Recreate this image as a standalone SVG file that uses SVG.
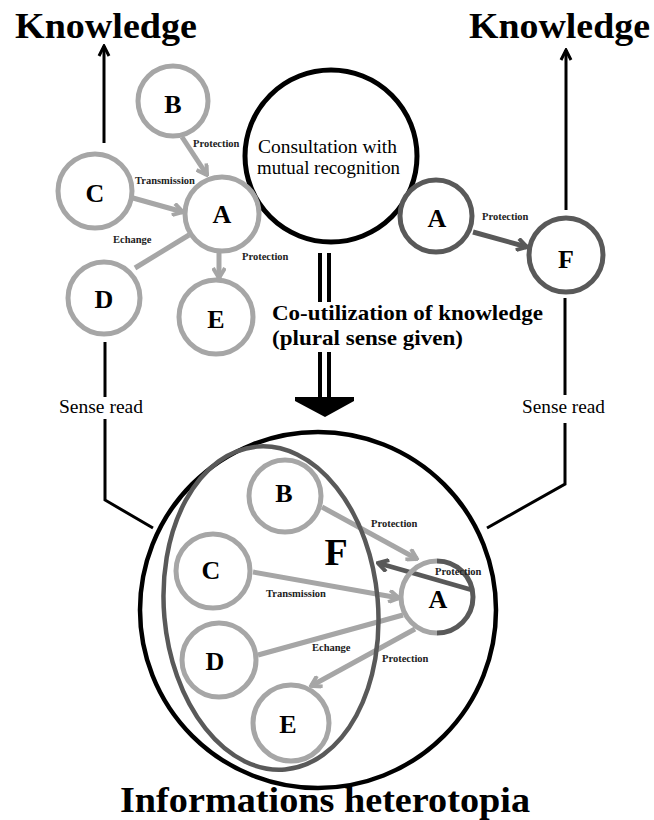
<svg xmlns="http://www.w3.org/2000/svg" width="654" height="820" viewBox="0 0 654 820">
<style>
.lt{fill:#fff;stroke:#a6a6a6;stroke-width:5}
.dk{fill:#fff;stroke:#595959;stroke-width:5}
.ltl{fill:none;stroke:#a6a6a6;stroke-width:5}
.dkl{fill:none;stroke:#595959;stroke-width:4.5}
.bk{fill:none;stroke:#000;stroke-width:3}
text{font-family:'Liberation Serif','DejaVu Serif',serif}
.node{font-weight:bold;font-size:26px;text-anchor:middle;fill:#000}
.lab{font-weight:bold;font-size:10.5px;fill:#222}
.big{font-weight:bold;fill:#000}
.reg{fill:#000}
</style>
<defs>
<marker id="mlt" viewBox="0 0 14 14" refX="12" refY="7" markerWidth="14" markerHeight="14" markerUnits="userSpaceOnUse" orient="auto"><path d="M2,1 L12,7 L2,13" fill="none" stroke="#a6a6a6" stroke-width="4"/></marker>
<marker id="mdk" viewBox="0 0 14 14" refX="12" refY="7" markerWidth="14" markerHeight="14" markerUnits="userSpaceOnUse" orient="auto"><path d="M2,1 L12,7 L2,13" fill="none" stroke="#595959" stroke-width="4"/></marker>
<marker id="mbk" viewBox="0 0 14 14" refX="12" refY="7" markerWidth="14" markerHeight="14" markerUnits="userSpaceOnUse" orient="auto"><path d="M2,2 L12,7 L2,12" fill="none" stroke="#000" stroke-width="3"/></marker>
</defs>
<rect width="654" height="820" fill="#fff"/>

<g id="connectors">
  <line class="bk" x1="104" y1="143" x2="104" y2="46" marker-end="url(#mbk)"/>
  <line class="bk" x1="566" y1="210" x2="566" y2="50" marker-end="url(#mbk)"/>
  <line class="bk" x1="105" y1="342" x2="105" y2="397"/>
  <polyline class="bk" points="105,419 105,500 153,528"/>
  <line class="bk" x1="565" y1="298" x2="565" y2="395"/>
  <polyline class="bk" points="565,423 565,484 487,528"/>
  <line x1="320" y1="253" x2="320" y2="302" stroke="#000" stroke-width="4"/>
  <line x1="329" y1="253" x2="329" y2="302" stroke="#000" stroke-width="4"/>
  <line x1="320" y1="352" x2="320" y2="399" stroke="#000" stroke-width="4"/>
  <line x1="329" y1="352" x2="329" y2="399" stroke="#000" stroke-width="4"/>
  <polygon points="295,397 354,397 354,401 325,417 295,401" fill="#000"/>
  <line class="ltl" x1="182" y1="137" x2="207" y2="175" marker-end="url(#mlt)"/>
  <line class="ltl" x1="133" y1="198" x2="183" y2="212" marker-end="url(#mlt)"/>
  <line class="ltl" x1="135" y1="268" x2="189" y2="235"/>
  <line class="ltl" x1="219" y1="252" x2="219" y2="278" marker-end="url(#mlt)"/>
  <line x1="473" y1="232" x2="527" y2="247" stroke="#595959" stroke-width="5" marker-end="url(#mdk)"/>
  <line class="ltl" x1="322" y1="507" x2="417" y2="559" marker-end="url(#mlt)"/>
  <line class="ltl" x1="253" y1="572" x2="399" y2="598" marker-end="url(#mlt)"/>
  <line class="ltl" x1="258" y1="655" x2="403" y2="615"/>
  <line class="ltl" x1="415" y1="629" x2="311" y2="686" marker-end="url(#mlt)"/>
  <line class="dkl" x1="472" y1="590" x2="378" y2="563" marker-end="url(#mdk)"/>
</g>

<g id="consultation">
  <circle cx="331" cy="156" r="86" fill="none" stroke="#000" stroke-width="5"/>
  <text class="reg" font-size="19" x="258" y="153" textLength="139" lengthAdjust="spacingAndGlyphs">Consultation with</text>
  <text class="reg" font-size="19" x="257" y="174" textLength="143" lengthAdjust="spacingAndGlyphs">mutual recognition</text>
</g>

<g id="tl-B"><circle class="lt" cx="173" cy="101" r="35"/><text class="node" x="173" y="113">B</text></g>
<g id="tl-C"><circle class="lt" cx="95" cy="191" r="37"/><text class="node" x="95" y="202">C</text></g>
<g id="tl-A"><circle class="lt" cx="222" cy="214" r="37"/><text class="node" x="222" y="223">A</text></g>
<g id="tl-D"><circle class="lt" cx="104" cy="298" r="36"/><text class="node" x="104" y="308">D</text></g>
<g id="tl-E"><circle class="lt" cx="216" cy="317" r="37"/><text class="node" x="216" y="328">E</text></g>

<g id="tr-A"><circle class="dk" cx="436" cy="216" r="36"/><text class="node" x="437" y="227">A</text></g>
<g id="tr-F"><circle class="dk" cx="566" cy="255" r="37"/><text class="node" font-size="36" x="566" y="268">F</text></g>

<g id="heterotopia">
  <circle cx="318" cy="610" r="178" fill="none" stroke="#000" stroke-width="4.5"/>
</g>
<g id="F-ellipse">
  <ellipse cx="271" cy="608" rx="107" ry="162" transform="rotate(-5 271 608)" fill="none" stroke="#595959" stroke-width="4.5"/>
  <text class="big" font-size="38" x="336" y="565" text-anchor="middle">F</text>
</g>
<g id="b-B"><circle class="ltl" cx="285" cy="496" r="36"/><text class="node" x="284" y="502">B</text></g>
<g id="b-C"><circle class="ltl" cx="213" cy="571" r="37"/><text class="node" x="211" y="579">C</text></g>
<g id="b-D"><circle class="ltl" cx="219" cy="660" r="37"/><text class="node" x="215" y="670">D</text></g>
<g id="b-E"><circle class="ltl" cx="291" cy="723" r="38"/><text class="node" x="288" y="733">E</text></g>
<g id="b-A">
  <path d="M437,633 A36,36 0 0 1 437,561" fill="none" stroke="#a6a6a6" stroke-width="5"/>
  <path d="M437,561 A36,36 0 0 1 437,633" fill="none" stroke="#595959" stroke-width="5"/>
  <text class="node" x="438" y="608">A</text>
</g>

<g id="labels">
  <text class="big" font-size="36" x="15" y="38" textLength="182" lengthAdjust="spacingAndGlyphs">Knowledge</text>
  <text class="big" font-size="36" x="469" y="38" textLength="181" lengthAdjust="spacingAndGlyphs">Knowledge</text>
  <text class="reg" font-size="19" x="59" y="413" textLength="84" lengthAdjust="spacingAndGlyphs">Sense read</text>
  <text class="reg" font-size="19" x="522" y="413" textLength="83" lengthAdjust="spacingAndGlyphs">Sense read</text>
  <text class="big" font-size="22" x="272" y="320" textLength="271" lengthAdjust="spacingAndGlyphs">Co-utilization of knowledge</text>
  <text class="big" font-size="22" x="272" y="345" textLength="191" lengthAdjust="spacingAndGlyphs">(plural sense given)</text>
  <text class="big" font-size="36" x="120" y="812" textLength="410" lengthAdjust="spacingAndGlyphs">Informations heterotopia</text>
  <text class="lab" x="193" y="147">Protection</text>
  <text class="lab" x="135" y="184">Transmission</text>
  <text class="lab" x="113" y="243">Echange</text>
  <text class="lab" x="242" y="260">Protection</text>
  <text class="lab" x="482" y="220">Protection</text>
  <text class="lab" x="371" y="527">Protection</text>
  <text class="lab" x="435" y="575">Protection</text>
  <text class="lab" x="266" y="597">Transmission</text>
  <text class="lab" x="312" y="651">Echange</text>
  <text class="lab" x="382" y="662">Protection</text>
</g>
</svg>
